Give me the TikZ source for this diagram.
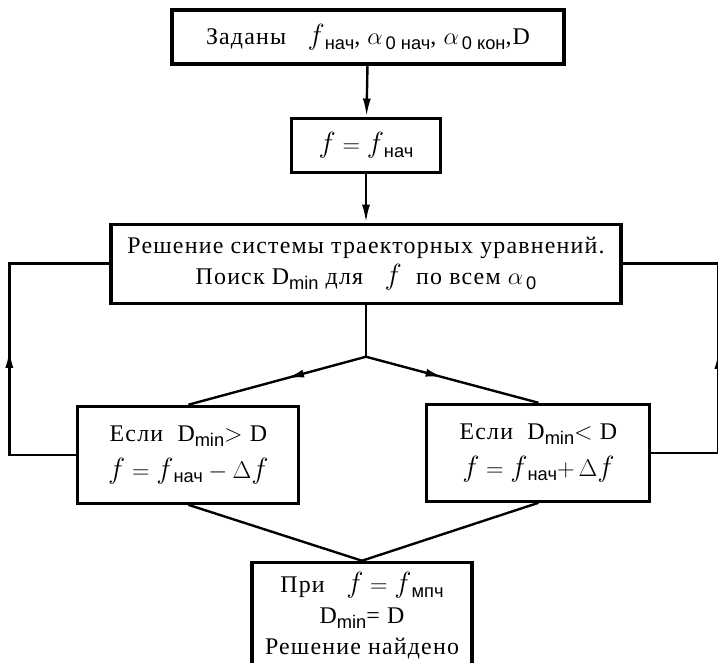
\documentclass[tikz,border=0pt]{standalone}
\usepackage{amsmath}
\usepackage{fontspec}
\setmainfont{Liberation Serif}[LetterSpace=5]
\setsansfont{Liberation Sans}
\usetikzlibrary{positioning,arrows.meta,decorations.markings}
\newcommand{\lo}[1]{\raisebox{-0.45ex}{\sffamily\fontsize{13}{13}\selectfont #1}}
\newcommand{\ff}{\text{\fontsize{21}{21}\selectfont$f$}}

\begin{document}
\begin{tikzpicture}[thick]
    % Styles
    \tikzstyle{block} = [rectangle, draw, line width=2.2pt, align=center, inner sep=2pt, font=\fontsize{17}{22}\selectfont]
    \tikzstyle{line} = [line width=1.7pt]
    \tikzstyle{arrow} = [line, -{Latex[length=4.5mm, width=2mm]}]
    \tikzset{midarrow/.style={line, postaction={decorate}, decoration={markings, mark=at position #1 with {\arrow{Latex[length=4.5mm, width=2mm]}}}}}

    \useasboundingbox (0,0) rectangle (17.95,-16.575);

    % Blocks
    \node [block, minimum width=9.8cm, minimum height=1.35cm] (given) at (9.2,-0.925) {Заданы \ \ $\ff$\lo{нач}, $\alpha$\lo{\,0 нач}, $\alpha$\lo{\,0 кон},D};
    \node [block, below=1.275cm of given, xshift=-0.05cm, minimum width=3.725cm, minimum height=1.35cm] (start) {$\ff = \ff$\lo{нач}};
    \node [block, below=1.225cm of start, minimum width=12.75cm, minimum height=1.975cm] (solve) {Решение системы траекторных уравнений.\\ Поиск D\lo{min} для \ \ $\ff$ \ по всем $\alpha$\lo{\,0}};
    \node [block, below=2.5cm of solve, xshift=-4.44cm, minimum width=5.525cm, minimum height=2.425cm] (more) {Если \ D\lo{min}$>$ D\\[4pt] $\ff = \ff$\lo{нач}${}- \Delta \ff$};
    \node [block, below=2.45cm of solve, xshift=4.31cm, minimum width=5.575cm, minimum height=2.425cm] (less) {Если \ D\lo{min}$<$ D\\[4pt] $\ff = \ff$\lo{нач}$+\,\Delta \ff$};
    \node [block, below=6.4cm of solve, xshift=-0.1cm, minimum width=5.5cm, minimum height=2.675cm] (found) {При \ \ $\ff = \ff$\lo{мпч}\\ D\lo{min}= D\\ Решение найдено};

    % Turning points
    \coordinate [below=1.3cm of solve] (split);
    \coordinate [left=1.675cm of more.west] (mbot);
    \coordinate (mtop) at (mbot |- solve.west);
    \coordinate [right=1.675cm of less.east] (lbot);
    \coordinate (ltop) at (lbot |- solve.east);

    % Connections
    \draw [arrow] (given) -- (start);
    \draw [arrow] (start) -- (solve);
    \draw [line] (solve) -- (split);
    \draw [midarrow=0.45] (split) -- (more.north);
    \draw [midarrow=0.45] (split) -- (less.north);
    \draw [line] (more.south) -- (found.north);
    \draw [line] (less.south) -- (found.north);

    % Feedback loops
    \draw [midarrow=0.48] (more.west) -- (mbot) -- (mtop) -- (solve.west);
    \draw [midarrow=0.48] (less.east) -- (lbot) -- (ltop) -- (solve.east);
\end{tikzpicture}
\end{document}
